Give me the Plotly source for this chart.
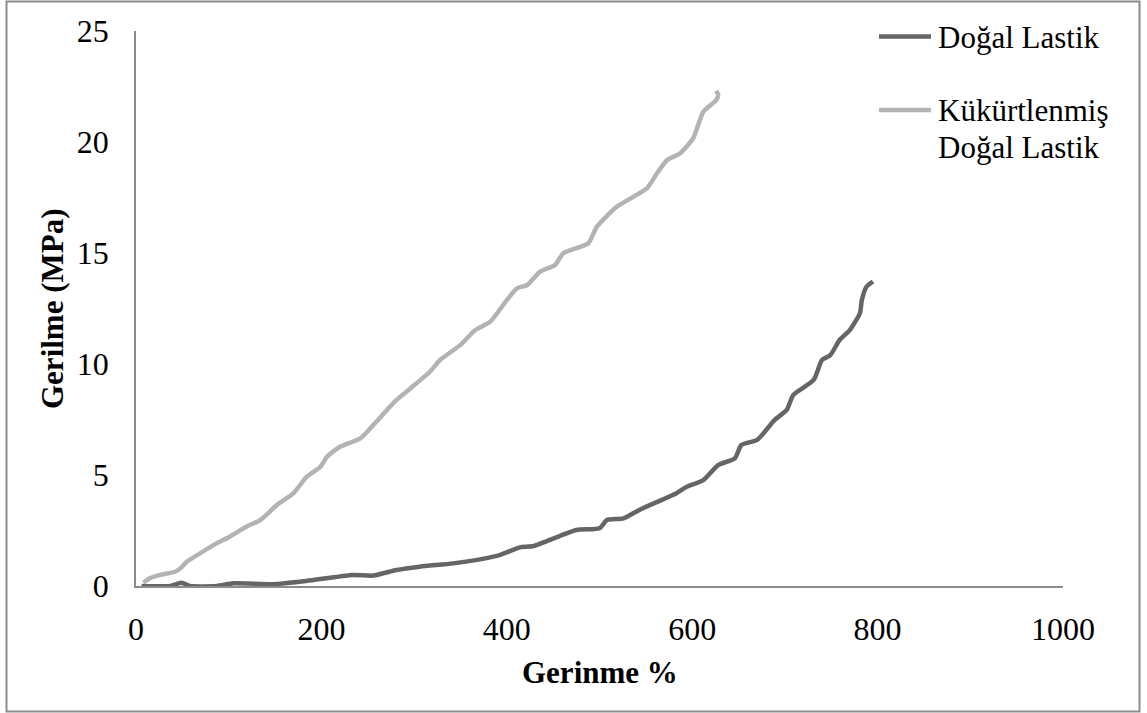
import plotly.graph_objects as go

# Stress-strain data (strain %, stress MPa)
strain_natural = [6, 37, 49, 58, 87, 105, 148, 184, 234, 256, 281, 306, 342, 371, 393, 414,
                  429, 475, 500, 508, 526, 544, 583, 594, 612, 628, 646, 653, 670, 689,
                  702, 709, 731, 740, 749, 759, 770, 781, 783, 788, 795]
stress_natural = [0, 0, 0.15, 0, 0, 0.12, 0.08, 0.23, 0.5, 0.47, 0.72, 0.87, 1.02, 1.2, 1.4, 1.74,
                  1.8, 2.52, 2.6, 2.97, 3.05, 3.45, 4.18, 4.47, 4.77, 5.45, 5.75, 6.35, 6.58, 7.48,
                  7.93, 8.6, 9.28, 10.18, 10.4, 11.08, 11.53, 12.3, 12.88, 13.48, 13.71]

strain_vulcanized = [8, 15, 26, 42, 48, 55, 69, 87, 101, 119, 134, 152, 170, 184, 199, 206,
                     220, 242, 256, 281, 296, 317, 328, 350, 366, 382, 400, 411, 422, 436,
                     452, 461, 488, 497, 519, 551, 562, 573, 587, 601, 612, 626, 628, 626]
stress_vulcanized = [0.15, 0.35, 0.5, 0.64, 0.8, 1.1, 1.47, 1.92, 2.22, 2.67, 2.97, 3.65, 4.18, 4.92, 5.37, 5.82,
                     6.27, 6.65, 7.25, 8.38, 8.9, 9.65, 10.18, 10.86, 11.53, 11.9, 12.88, 13.41, 13.56, 14.16,
                     14.46, 14.99, 15.44, 16.18, 17.09, 17.91, 18.59, 19.19, 19.49, 20.17, 21.36, 21.89, 22.12, 22.31]

series_names = ["Doğal Lastik", "Kükürtlenmiş Doğal Lastik"]
x_ticks = [0, 200, 400, 600, 800, 1000]
y_ticks = [0, 5, 10, 15, 20, 25]

DARK = "#656565"
LIGHT = "#b3b3b3"
AXIS = "#8c8c8c"
FONT = "Liberation Serif, Times New Roman, serif"

W, H = 1147, 713
L, R, T, B = 136, 84, 31, 127
PW, PH = W - L - R, H - T - B


def px(xp):
    return (xp - L) / PW


def py(yp):
    return (H - B - yp) / PH


fig = go.Figure()
fig.add_trace(go.Scatter(x=strain_natural, y=stress_natural, mode="lines", name=series_names[0],
                         line=dict(color=DARK, width=4.5, shape="spline", smoothing=0.6)))
fig.add_trace(go.Scatter(x=strain_vulcanized, y=stress_vulcanized, mode="lines", name=series_names[1],
                         line=dict(color=LIGHT, width=4.5, shape="spline", smoothing=0.6)))

# Custom legend: line swatches and labels at the upper right
shapes = [
    dict(type="line", xref="paper", yref="paper", x0=px(879), x1=px(931), y0=py(36.5), y1=py(36.5),
         line=dict(color=DARK, width=4.5)),
    dict(type="line", xref="paper", yref="paper", x0=px(879), x1=px(931), y0=py(110), y1=py(110),
         line=dict(color=LIGHT, width=4.5)),
    # Outer frame
    dict(type="rect", xref="paper", yref="paper", x0=px(6.5), x1=px(1139.5), y0=py(711.5), y1=py(1.5),
         line=dict(color=AXIS, width=2)),
]

annotations = [
    dict(text="Doğal Lastik", xref="paper", yref="paper", x=px(936), y=py(37), xanchor="left",
         yanchor="middle", showarrow=False, font=dict(family=FONT, size=31, color="#000")),
    dict(text="Kükürtlenmiş", xref="paper", yref="paper", x=px(936), y=py(110), xanchor="left",
         yanchor="middle", showarrow=False, font=dict(family=FONT, size=31, color="#000")),
    dict(text="Doğal Lastik", xref="paper", yref="paper", x=px(936), y=py(147), xanchor="left",
         yanchor="middle", showarrow=False, font=dict(family=FONT, size=31, color="#000")),
    dict(text="<b>Gerinme %</b>", xref="paper", yref="paper", x=0.5, y=py(672), xanchor="center",
         yanchor="middle", showarrow=False, font=dict(family=FONT, size=31, color="#000")),
    dict(text="<b>Gerilme (MPa)</b>", xref="paper", yref="paper", x=px(52), y=py(309), xanchor="center",
         yanchor="middle", textangle=-90, showarrow=False, font=dict(family=FONT, size=31, color="#000")),
]

fig.update_layout(
    width=W, height=H,
    margin=dict(l=L, r=R, t=T, b=B, autoexpand=False),
    paper_bgcolor="white", plot_bgcolor="white",
    showlegend=False,
    shapes=shapes,
    annotations=annotations,
    font=dict(family=FONT, size=32, color="#000"),
)
fig.update_xaxes(range=[0, 1000], tickvals=x_ticks, ticktext=[str(v) for v in x_ticks],
                 showgrid=False, zeroline=False, showline=True, linecolor=AXIS, linewidth=1.5,
                 ticks="", ticklabelstandoff=14, tickfont=dict(family=FONT, size=32, color="#000"))
fig.update_yaxes(range=[0, 25], tickvals=y_ticks, ticktext=[str(v) for v in y_ticks],
                 showgrid=False, zeroline=False, showline=True, linecolor=AXIS, linewidth=1.5,
                 ticks="", ticklabelstandoff=19, tickfont=dict(family=FONT, size=32, color="#000"))

fig.write_html("out.html")
